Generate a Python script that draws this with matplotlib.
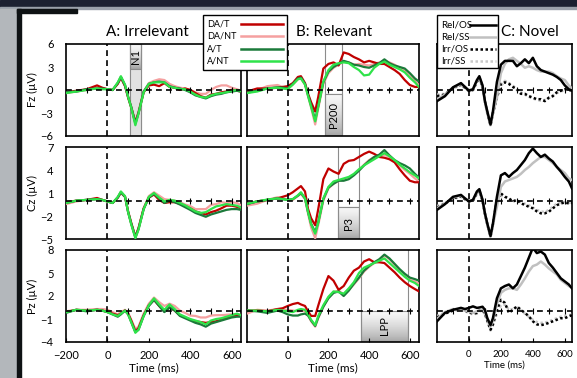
import numpy as np
import matplotlib
matplotlib.use("Agg")
import matplotlib.pyplot as plt
from matplotlib.patches import Rectangle
from matplotlib.lines import Line2D

W, H = 577, 378

times = [-200, -150, -100, -50, -25, 0, 25, 50, 65, 85, 100, 115, 135, 150,
         175, 200, 225, 250, 275, 300, 325, 350, 375, 400, 425, 450, 475, 500,
         525, 550, 575, 600, 625, 645]

# ---- A: Irrelevant ----
fz_irr_da_t = [-0.3, -0.1, 0.1, 0.6, 0.3, 0.1, 0.0, 0.8, 1.6, 0.5, -1.0, -2.3, -4.2, -3.0,
               -0.3, 0.6, 0.7, 0.5, 0.9, 0.4, 0.3, 0.0, 0.2, 0.0, -0.4, -0.8, -1.0, -0.6, -0.5, -0.3, -0.2, 0.0, -0.1, -0.2]
fz_irr_da_nt = [-0.4, -0.2, 0.0, 0.3, 0.2, 0.1, 0.0, 0.9, 1.7, 0.6, -0.9, -2.2, -4.1, -2.8,
                -0.2, 0.9, 1.2, 1.4, 1.3, 0.8, 0.5, 0.3, 0.2, 0.0, -0.3, -0.5, -0.5, 0.0, 0.4, 0.6, 0.6, 0.3, 0.1, -0.1]
fz_irr_a_t = [-0.3, -0.2, 0.1, 0.2, 0.2, 0.1, 0.0, 0.9, 1.7, 0.6, -0.9, -2.2, -4.4, -3.0,
              -0.2, 0.8, 1.0, 1.1, 1.0, 0.5, 0.3, 0.2, 0.0, -0.3, -0.7, -0.9, -1.1, -0.8, -0.6, -0.5, -0.3, -0.2, -0.1, -0.2]
fz_irr_a_nt = [-0.4, -0.2, 0.0, 0.2, 0.1, 0.1, 0.0, 1.0, 1.8, 0.7, -0.9, -2.3, -4.6, -3.1,
               -0.3, 0.8, 1.0, 1.0, 1.0, 0.4, 0.3, 0.1, 0.1, -0.2, -0.6, -0.9, -1.0, -0.7, -0.5, -0.4, -0.3, -0.1, 0.0, -0.1]

cz_irr_da_t = [-0.2, 0.0, 0.1, 0.35, 0.1, -0.1, -0.3, 0.4, 1.1, 0.5, -1.4, -2.9, -4.7, -3.6,
               -1.0, 0.4, 0.8, 0.1, -0.3, -0.2, -0.2, -0.4, -0.7, -1.0, -1.4, -1.6, -1.8, -1.5, -1.3, -1.0, -0.65, -0.65, -0.8, -1.0]
cz_irr_da_nt = [-0.45, -0.1, 0.1, 0.2, 0.1, -0.1, -0.3, 0.4, 1.0, 0.5, -1.5, -3.0, -4.7, -3.6,
                -1.0, 0.6, 1.1, 0.65, 0.2, 0.1, 0.0, -0.2, -0.5, -0.7, -1.1, -1.1, -1.1, -0.55, -0.45, -0.2, -0.3, -0.2, -0.3, -0.6]
cz_irr_a_t = [-0.3, 0.0, 0.1, 0.2, 0.1, -0.1, -0.3, 0.4, 1.1, 0.5, -1.5, -3.0, -4.8, -3.7,
              -1.1, 0.4, 0.9, 0.3, -0.3, 0.0, -0.2, -0.5, -0.85, -1.2, -1.6, -1.85, -2.1, -1.8, -1.6, -1.4, -1.2, -1.1, -1.1, -1.2]
cz_irr_a_nt = [-0.3, 0.0, 0.1, 0.2, 0.1, -0.1, -0.3, 0.5, 1.2, 0.6, -1.5, -3.1, -4.9, -3.8,
               -1.1, 0.5, 1.0, 0.4, -0.1, 0.1, 0.0, -0.3, -0.6, -1.0, -1.4, -1.6, -1.5, -1.1, -0.75, -0.6, -0.45, -0.55, -0.65, -0.9]

pz_irr_da_t = [-0.1, 0.2, 0.1, 0.2, 0.1, -0.1, -0.3, -0.5, -0.3, 0.1, -0.3, -1.2, -2.6, -2.2,
               -0.5, 0.8, 1.5, 0.7, 0.0, 0.5, 0.1, -0.5, -0.8, -1.1, -1.3, -1.4, -1.5, -1.4, -1.3, -1.1, -0.9, -0.6, -0.5, -0.5]
pz_irr_da_nt = [0.0, 0.2, 0.2, 0.3, 0.3, 0.2, -0.1, -0.4, -0.1, 0.2, -0.2, -1.1, -2.3, -2.0,
                -0.3, 1.0, 1.8, 1.2, 0.7, 1.0, 0.7, 0.1, -0.2, -0.55, -0.6, -0.8, -0.8, -0.55, -0.5, -0.5, -0.45, -0.4, -0.35, -0.5]
pz_irr_a_t = [-0.2, 0.2, 0.0, 0.2, 0.1, -0.1, -0.4, -0.7, -0.4, 0.1, -0.4, -1.4, -2.7, -2.4,
              -0.6, 0.7, 1.5, 0.7, -0.1, 0.5, 0.1, -0.6, -0.9, -1.2, -1.5, -1.7, -2.0, -1.6, -1.4, -1.2, -1.0, -0.8, -0.7, -0.7]
pz_irr_a_nt = [-0.1, 0.2, 0.1, 0.2, 0.1, -0.1, -0.4, -0.6, -0.3, 0.1, -0.4, -1.4, -2.8, -2.4,
               -0.6, 0.8, 1.7, 0.9, 0.2, 0.9, 0.3, -0.4, -0.7, -1.0, -1.2, -1.4, -1.7, -1.2, -1.0, -0.9, -0.7, -0.5, -0.3, -0.5]

# ---- B: Relevant ----
fz_rel_da_t = [-0.2, 0.2, 0.2, 0.3, 0.4, 0.5, 0.9, 1.7, 1.8, 0.9, -0.5, -1.6, -2.8, -0.9,
               2.8, 3.4, 3.6, 3.2, 4.9, 4.7, 4.3, 4.0, 3.6, 3.8, 3.6, 3.4, 3.4, 3.0, 2.6, 2.1, 1.3, 0.65, 0.4, 0.4]
fz_rel_da_nt = [-0.15, 0.0, 0.5, 0.65, 0.4, 0.2, 0.7, 1.4, 1.5, 0.7, -0.8, -2.3, -4.5, -2.4,
                0.8, 2.2, 2.9, 3.3, 3.7, 3.6, 3.3, 3.4, 3.3, 3.2, 3.4, 3.6, 3.8, 3.6, 3.3, 2.9, 2.5, 1.8, 1.2, 0.6]
fz_rel_a_t = [-0.35, -0.1, 0.2, 0.35, 0.3, 0.2, 0.8, 1.5, 1.6, 0.8, -0.65, -2.0, -3.9, -2.1,
              1.0, 2.4, 3.0, 3.4, 3.8, 3.6, 3.3, 3.2, 3.0, 2.9, 3.2, 3.5, 4.0, 3.5, 3.2, 3.0, 2.8, 2.2, 1.5, 1.1]
fz_rel_a_nt = [-0.4, -0.2, 0.2, 0.3, 0.2, 0.1, 0.7, 1.4, 1.5, 0.7, -0.8, -2.2, -4.1, -2.2,
               1.1, 2.6, 3.3, 3.5, 3.6, 3.5, 3.0, 2.6, 1.9, 2.0, 2.9, 3.4, 3.7, 3.3, 3.0, 2.7, 2.3, 1.6, 1.0, 0.4]

cz_rel_da_t = [-0.4, -0.1, 0.1, 0.3, 0.5, 0.7, 1.1, 1.6, 1.9, 1.2, -1.1, -2.3, -3.2, -1.1,
               2.8, 4.2, 3.8, 3.5, 4.8, 5.2, 5.3, 5.7, 6.1, 6.4, 6.1, 5.7, 5.6, 5.4, 5.0, 4.1, 3.3, 2.6, 2.4, 2.4]
cz_rel_da_nt = [-0.65, -0.4, 0.1, 0.45, 0.3, 0.1, 0.1, 0.6, 0.9, 0.2, -1.7, -3.5, -4.9, -3.2,
                0.0, 1.6, 2.2, 2.6, 2.7, 3.0, 3.4, 4.0, 4.7, 5.3, 5.7, 5.9, 6.0, 5.7, 5.2, 4.6, 4.0, 3.5, 2.9, 2.5]
cz_rel_a_t = [-0.45, -0.1, 0.1, 0.3, 0.2, 0.1, 0.2, 0.65, 1.0, 0.3, -1.5, -3.0, -4.1, -2.8,
              0.2, 1.7, 2.2, 2.6, 2.6, 2.8, 3.3, 3.9, 4.6, 5.2, 5.7, 6.0, 6.6, 5.9, 5.3, 4.9, 4.6, 4.2, 3.5, 3.0]
cz_rel_a_nt = [-0.4, -0.1, 0.15, 0.3, 0.2, 0.1, 0.2, 0.7, 1.1, 0.3, -1.5, -3.1, -4.3, -2.9,
               0.3, 1.8, 2.5, 2.7, 2.9, 3.1, 3.5, 4.1, 4.6, 5.0, 5.4, 5.8, 6.2, 5.8, 5.3, 4.7, 4.2, 3.7, 3.3, 2.9]

pz_rel_da_t = [0.1, 0.1, 0.0, 0.3, 0.4, 0.7, 0.95, 1.1, 0.9, 0.7, 0.0, -0.6, -0.6, 0.75,
               2.9, 4.6, 4.0, 2.8, 3.3, 4.4, 5.3, 5.7, 6.5, 6.8, 6.4, 6.4, 6.3, 5.7, 5.1, 4.4, 3.8, 3.3, 2.9, 2.6]
pz_rel_da_nt = [-0.3, 0.2, 0.1, 0.3, 0.2, 0.2, 0.1, 0.0, 0.1, 0.0, -0.5, -1.3, -2.0, -0.9,
                0.6, 1.8, 2.5, 2.7, 2.2, 2.8, 3.5, 4.3, 5.2, 5.8, 6.3, 6.7, 7.3, 6.8, 6.1, 5.3, 4.6, 4.1, 3.9, 3.6]
pz_rel_a_t = [0.1, 0.0, -0.2, 0.1, -0.1, -0.4, -0.55, -0.55, -0.4, -0.3, -0.55, -1.2, -1.9, -0.8,
              0.6, 1.7, 2.4, 2.6, 2.0, 2.7, 3.6, 4.4, 5.3, 5.9, 6.4, 6.8, 7.4, 6.9, 6.2, 5.5, 4.9, 4.4, 4.2, 4.0]
pz_rel_a_nt = [0.1, 0.1, 0.0, 0.2, 0.1, 0.0, -0.1, 0.2, 0.3, 0.2, -0.4, -1.1, -1.8, -0.6,
               0.8, 1.9, 2.6, 2.5, 2.3, 3.0, 3.8, 5.0, 5.7, 6.0, 6.3, 6.6, 6.9, 6.3, 5.7, 5.1, 4.5, 4.0, 3.7, 3.3]

# ---- C: Novel ----
fz_nov_rel_os = [-1.45, -0.8, 0.35, 0.9, 0.4, -0.1, 0.1, 1.3, 1.8, 0.6, -1.45, -2.8, -4.5, -2.8,
                 1.05, 3.3, 3.8, 3.8, 3.8, 3.1, 3.5, 4.0, 3.5, 4.2, 3.1, 2.6, 2.4, 2.2, 2.0, 1.7, 1.3, 0.6, 0.1, -0.1]
fz_nov_rel_ss = [-1.2, -0.6, 0.3, 0.8, 0.4, 0.0, 0.1, 1.2, 1.7, 0.5, -1.5, -2.9, -4.6, -3.0,
                 -1.0, 2.2, 3.4, 4.0, 4.2, 3.8, 3.4, 2.9, 3.1, 2.9, 2.6, 2.4, 2.4, 2.4, 2.2, 1.8, 1.5, 1.3, 0.6, 0.2]
fz_nov_irr_os = [-0.8, -0.6, 0.3, 0.7, 0.3, -0.1, 0.0, 1.1, 1.6, 0.4, -1.5, -3.0, -4.6, -3.0,
                 -1.0, 0.8, 1.0, 0.8, 0.4, 0.1, -0.5, -0.5, -0.8, -1.0, -1.2, -1.2, -1.45, -1.0, -0.8, -0.3, -0.1, 0.1, -0.1, 0.1]
fz_nov_irr_ss = [-0.6, -0.5, 0.2, 0.6, 0.3, -0.2, 0.0, 1.0, 1.5, 0.3, -1.6, -3.1, -4.7, -3.1,
                 -0.8, 0.5, 1.2, 0.9, 0.6, 0.0, -0.3, -0.6, -0.9, -1.1, -1.3, -1.4, -1.3, -1.1, -0.7, -0.4, -0.2, 0.0, 0.1, 0.0]

cz_nov_rel_os = [-1.2, -0.45, 0.5, 0.75, 0.3, -0.1, 0.1, 1.2, 1.5, 0.1, -1.65, -3.0, -4.6, -3.0,
                 0.5, 3.3, 3.6, 3.1, 3.6, 4.0, 4.65, 5.3, 6.2, 6.8, 6.2, 5.7, 6.0, 5.5, 5.1, 4.4, 3.8, 3.1, 2.5, 1.6]
cz_nov_rel_ss = [-1.0, -0.4, 0.4, 0.7, 0.3, 0.0, 0.1, 1.1, 1.4, 0.0, -1.7, -3.1, -4.7, -3.1,
                 -0.8, 1.8, 2.5, 2.7, 2.9, 3.1, 3.5, 4.0, 4.4, 4.9, 5.3, 5.7, 5.7, 5.3, 4.9, 4.4, 4.0, 3.6, 2.9, 2.7]
cz_nov_irr_os = [-0.9, -0.4, 0.3, 0.6, 0.2, -0.1, 0.0, 1.0, 1.3, 0.0, -1.7, -3.1, -4.7, -3.1,
                 0.1, 0.95, 0.5, 0.3, -0.1, 0.1, -0.35, -0.55, -0.8, -1.0, -1.4, -1.65, -1.65, -1.45, -1.0, -0.6, -0.35, -0.25, -0.35, -0.3]
cz_nov_irr_ss = [-0.7, -0.3, 0.2, 0.5, 0.2, -0.1, 0.0, 0.9, 1.2, -0.1, -1.8, -3.2, -4.8, -3.2,
                 -0.3, 0.6, 0.6, 0.2, 0.0, 0.0, -0.2, -0.4, -0.6, -0.9, -1.2, -1.4, -1.5, -1.2, -0.8, -0.4, -0.2, -0.2, -0.3, -0.2]

pz_nov_rel_os = [-1.3, -0.2, 0.2, 0.45, 0.3, 0.45, 0.65, 0.45, 0.5, 0.6, 0.2, -0.9, -1.8, -0.9,
                 1.7, 3.0, 3.3, 3.5, 3.0, 3.5, 4.6, 5.7, 7.0, 8.3, 7.6, 7.8, 7.4, 6.3, 5.7, 5.0, 4.3, 3.9, 3.5, 3.0]
pz_nov_rel_ss = [-1.0, -0.1, 0.3, 0.2, 0.1, 0.0, -0.2, 0.0, 0.1, 0.2, -0.1, -1.0, -2.0, -1.2,
                 0.9, 2.4, 2.8, 3.0, 3.0, 2.8, 3.5, 4.3, 5.2, 5.9, 6.1, 6.5, 6.1, 5.6, 5.2, 4.8, 4.1, 3.7, 3.3, 3.1]
pz_nov_irr_os = [-0.8, -0.3, 0.1, 0.3, 0.1, -0.1, -0.3, -0.2, 0.1, 0.2, -0.3, -1.2, -2.4, -1.7,
                 0.2, 1.5, 1.1, -0.2, 0.2, 0.65, 0.2, -0.2, -0.65, -1.3, -1.7, -1.8, -1.7, -1.5, -1.3, -1.1, -0.9, -0.9, -0.65, -0.5]
pz_nov_irr_ss = [-0.6, -0.2, 0.2, 0.2, 0.0, -0.2, -0.4, -0.3, 0.0, 0.1, -0.4, -1.3, -2.5, -1.8,
                 -0.3, 0.8, 0.9, 0.2, 0.3, 0.5, 0.1, -0.3, -0.7, -1.1, -1.4, -1.5, -1.5, -1.3, -1.1, -0.9, -0.7, -0.6, -0.5, -0.4]

channels = ["Fz", "Cz", "Pz"]
y_limits = [(-6, 6), (-5, 7), (-4, 8)]
y_ticks = [[6, 3, 0, -3, -6], [7, 4, 1, -2, -5], [8, 5, 2, -1, -4]]
x_ticks = [-200, 0, 200, 400, 600]
zero_ticks = [-100, 100, 200, 300, 400, 500, 600]

ab_labels = ["DA/T", "DA/NT", "A/T", "A/NT"]
ab_colors = ["#c00000", "#f5a0a0", "#1b7a3a", "#2fe34a"]
nov_labels = ["Rel/OS", "Rel/SS", "Irr/OS", "Irr/SS"]
nov_colors = ["black", "#c0c0c0", "black", "#c8c8c8"]
nov_styles = ["-", "-", (0, (1, 1)), (0, (1, 1))]

# component windows (ms) and the bottom label box top (uV)
n1_window = (110, 160)
p200_window = (185, 265, -0.5)
p3_window = (245, 350, -0.8)
lpp_window = (360, 590, 0.0)

irr_data = [[fz_irr_da_t, fz_irr_da_nt, fz_irr_a_t, fz_irr_a_nt],
            [cz_irr_da_t, cz_irr_da_nt, cz_irr_a_t, cz_irr_a_nt],
            [pz_irr_da_t, pz_irr_da_nt, pz_irr_a_t, pz_irr_a_nt]]
rel_data = [[fz_rel_da_t, fz_rel_da_nt, fz_rel_a_t, fz_rel_a_nt],
            [cz_rel_da_t, cz_rel_da_nt, cz_rel_a_t, cz_rel_a_nt],
            [pz_rel_da_t, pz_rel_da_nt, pz_rel_a_t, pz_rel_a_nt]]
nov_data = [[fz_nov_rel_os, fz_nov_rel_ss, fz_nov_irr_os, fz_nov_irr_ss],
            [cz_nov_rel_os, cz_nov_rel_ss, cz_nov_irr_os, cz_nov_irr_ss],
            [pz_nov_rel_os, pz_nov_rel_ss, pz_nov_irr_os, pz_nov_irr_ss]]

plt.rcParams["font.family"] = ["Lato", "DejaVu Sans"]
NARROW = ["Liberation Sans Narrow", "Lato", "DejaVu Sans"]


def px_box(x0, y0, x1, y1):
    return [x0 / W, 1 - y1 / H, (x1 - x0) / W, (y1 - y0) / H]


def fx(x):
    return x / W


def fy(y):
    return 1 - y / H


def base_axes(ax, row, small=False):
    ax.set_xlim(-200, 645)
    ax.set_ylim(*y_limits[row])
    for s in ax.spines.values():
        s.set_linewidth(1.2)
    ax.axvline(0, color="black", ls=(0, (3.5, 2.5)), lw=1.2, zorder=6)
    ax.axhline(0, color="black", ls=(0, (3.5, 2.5)), lw=1.2, zorder=6)
    ax.plot(zero_ticks, [0] * len(zero_ticks), ls="none", marker="|",
            ms=4, mew=0.8, color="black", zorder=6)
    ax.set_yticks(y_ticks[row])
    ax.tick_params(axis="y", length=0, pad=9, labelsize=8)
    if row == 2:
        ax.set_xticks(x_ticks)
        ax.tick_params(axis="x", direction="in", length=3, pad=6,
                       labelsize=7 if small else 8)
        ax.set_xlabel("Time (ms)", fontsize=7 if small else 8.5, labelpad=1)
    else:
        ax.set_xticks([])


def gradient_box(ax, t0, t1, v0, v1, dark_top=False):
    grad = np.linspace(0.05, 0.45, 50).reshape(-1, 1)
    if dark_top:
        grad = grad[::-1]
    ax.imshow(grad, extent=[t0, t1, v0, v1], origin="upper", aspect="auto",
              cmap="Greys", vmin=0, vmax=1, zorder=1)
    ax.add_patch(Rectangle((t0, v0), t1 - t0, v1 - v0, fill=False,
                           ec="#8c8c8c", lw=0.8, zorder=1.5))


def window_lines(ax, t0, t1):
    for t in (t0, t1):
        ax.axvline(t, color="#8c8c8c", lw=0.8, zorder=1.5)


def box_legend(box, labels, colors, styles, text_x, rows_y, line_x, font):
    x0, y0, x1, y1 = box
    fig.add_artist(Rectangle((fx(x0), fy(y1)), fx(x1) - fx(x0), fy(y0) - fy(y1),
                             transform=fig.transFigure, fc="white", ec="black",
                             lw=1.0, zorder=10))
    for lab, col, st, ry in zip(labels, colors, styles, rows_y):
        fig.text(fx(text_x), fy(ry), lab, ha="left", va="center", zorder=11, **font)
        fig.add_artist(Line2D([fx(line_x[0]), fx(line_x[1])], [fy(ry), fy(ry)],
                              transform=fig.transFigure, color=col, ls=st,
                              lw=1.8, zorder=11))


fig = plt.figure(figsize=(W / 100, H / 100), dpi=100)
fig.patch.set_facecolor("white")

# slide frame
fig.add_artist(Rectangle((0, fy(7)), 1, 7 / H, transform=fig.transFigure, color="#1c2131", zorder=0))
fig.add_artist(Rectangle((0, fy(9)), 1, 2 / H, transform=fig.transFigure, color="#9aa1aa", zorder=0))
fig.add_artist(Rectangle((0, 0), fx(17), fy(9), transform=fig.transFigure, color="#b3b7bb", zorder=0))
fig.add_artist(Rectangle((fx(17), 0), 4 / W, fy(9), transform=fig.transFigure, color="#0e1214", zorder=0))
fig.add_artist(Rectangle((fx(17), fy(13)), 60 / W, 4 / H, transform=fig.transFigure, color="#0e1214", zorder=0))

rows_px = [(44, 136), (147, 239), (250, 342)]
cols_px = [(66, 241), (247, 419), (437, 572)]

for r, (y0, y1) in enumerate(rows_px):
    axA = fig.add_axes(px_box(cols_px[0][0], y0, cols_px[0][1], y1))
    axB = fig.add_axes(px_box(cols_px[1][0], y0, cols_px[1][1], y1))
    axC = fig.add_axes(px_box(cols_px[2][0], y0, cols_px[2][1], y1))

    base_axes(axA, r)
    axA.set_ylabel(f"{channels[r]} (\u00b5V)", fontsize=8, labelpad=2)
    base_axes(axB, r)
    axB.set_yticklabels([])
    base_axes(axC, r, small=True)
    axC.set_yticklabels([])
    if r == 2:
        axB.set_xticks(x_ticks[1:])
        axC.set_xticks(x_ticks[1:])
        for lab in axC.get_xticklabels():
            lab.set_family(NARROW)
        axC.xaxis.label.set_family(NARROW)

    for i in [1, 0, 2, 3]:
        axA.plot(times, irr_data[r][i], color=ab_colors[i], lw=1.6, zorder=3)
        axB.plot(times, rel_data[r][i], color=ab_colors[i], lw=1.6, zorder=3)

    for i in [3, 2, 1, 0]:
        axC.plot(times, nov_data[r][i], color=nov_colors[i], ls=nov_styles[i], lw=1.8, zorder=3)

    if r == 0:
        axA.axvspan(n1_window[0], n1_window[1], color="#e2e2e2", zorder=1)
        window_lines(axA, *n1_window)
        gradient_box(axA, n1_window[0], n1_window[1], 2.8, 6)
        axA.text(sum(n1_window) / 2, 4.4, "N1", rotation=90, ha="center", va="center", fontsize=8, zorder=2)
        window_lines(axB, p200_window[0], p200_window[1])
        gradient_box(axB, p200_window[0], p200_window[1], -6, p200_window[2])
        axB.text((p200_window[0] + p200_window[1]) / 2, -3.3, "P200", rotation=90,
                 ha="center", va="center", fontsize=8, zorder=2)
    elif r == 1:
        window_lines(axB, p3_window[0], p3_window[1])
        gradient_box(axB, p3_window[0], p3_window[1], -5, p3_window[2])
        axB.text((p3_window[0] + p3_window[1]) / 2, -3.0, "P3", rotation=90,
                 ha="center", va="center", fontsize=8, zorder=2)
    else:
        window_lines(axB, lpp_window[0], lpp_window[1])
        gradient_box(axB, lpp_window[0], lpp_window[1], -4, lpp_window[2])
        axB.text((lpp_window[0] + lpp_window[1]) / 2, -1.8, "LPP", rotation=90,
                 ha="center", va="center", fontsize=8, zorder=2)

fig.text(fx(147), fy(32), "A: Irrelevant", ha="center", va="center", fontsize=11)
fig.text(fx(334), fy(32), "B: Relevant", ha="center", va="center", fontsize=11)
fig.text(fx(530), fy(32), "C: Novel", ha="center", va="center", fontsize=11)

box_legend((203, 15, 287, 70), ab_labels, ab_colors, ["-"] * 4, 207,
           [24, 36, 49, 61], (241, 283), {"fontsize": 6.5})
box_legend((437, 15, 498, 68), nov_labels, nov_colors, nov_styles, 441,
           [25, 37, 49, 61], (470, 496), {"fontsize": 7, "family": NARROW})

fig.savefig("out.png", dpi=100)
